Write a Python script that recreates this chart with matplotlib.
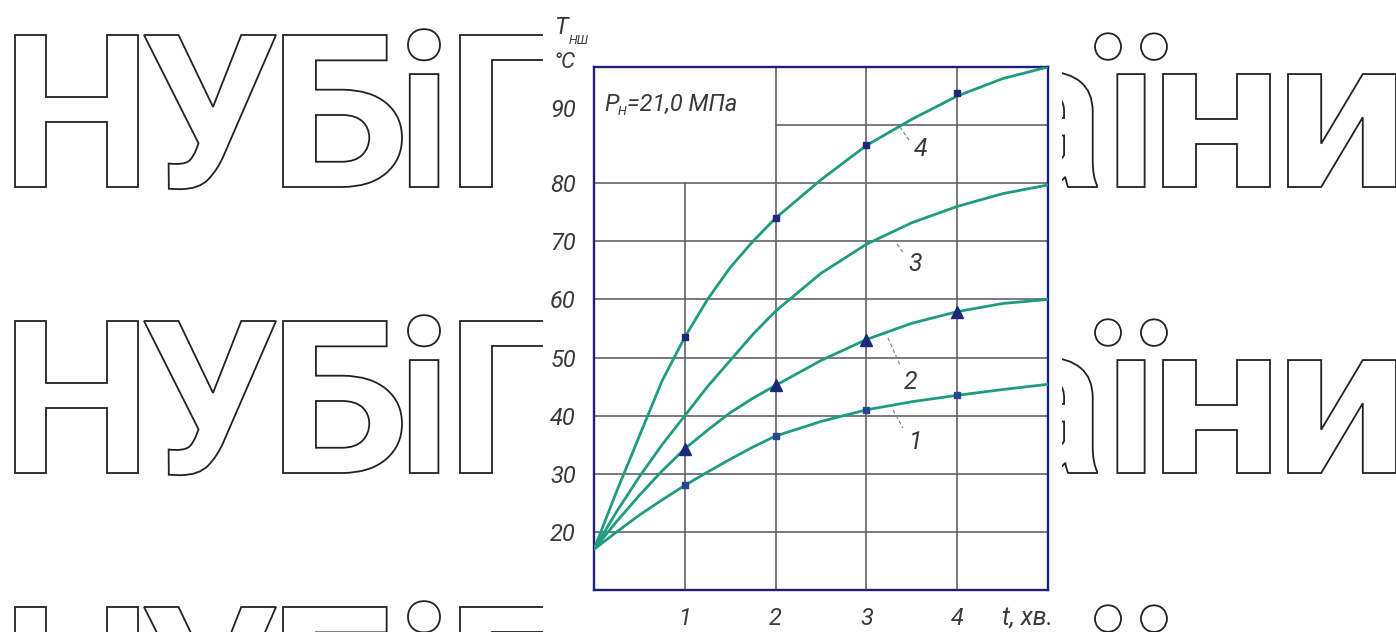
import matplotlib
matplotlib.use('Agg')
import matplotlib.pyplot as plt
from matplotlib.textpath import TextPath
from matplotlib.font_manager import FontProperties
from matplotlib.patches import PathPatch, Rectangle
from matplotlib.transforms import Affine2D, IdentityTransform, ScaledTranslation

W, H = 1396, 632

# ---------------- data ----------------
t_points = [0, 0.25, 0.5, 0.75, 1, 1.25, 1.5, 1.75, 2, 2.5, 3, 3.5, 4, 4.5, 5]
curve1 = [17.0, 20.0, 22.9, 25.5, 28.0, 30.3, 32.5, 34.6, 36.5, 39.0, 41.0, 42.4, 43.5, 44.5, 45.4]
curve2 = [17.0, 21.8, 26.3, 30.5, 34.3, 37.5, 40.5, 43.0, 45.2, 49.5, 53.1, 55.9, 57.9, 59.3, 60.0]
curve3 = [17.0, 23.5, 29.5, 35.0, 40.0, 45.0, 49.5, 54.0, 58.0, 64.5, 69.5, 73.2, 76.0, 78.2, 79.7]
curve4 = [17.0, 27.0, 36.5, 46.0, 53.5, 60.0, 65.5, 70.0, 74.0, 80.6, 86.5, 91.0, 95.0, 98.0, 100.0]

mark_t = [1, 2, 3, 4]
marks1 = [28.0, 36.5, 41.0, 43.5]
marks2 = [34.3, 45.2, 53.1, 57.9]
marks4 = [53.5, 74.0, 86.5, 95.5]

xticks = [1, 2, 3, 4]
xtick_labels = ['1', '2', '3', '4']
yticks = [20, 30, 40, 50, 60, 70, 80, 90]
ytick_labels = ['20', '30', '40', '50', '60', '70', '80', '90']
curve_names = ['1', '2', '3', '4']

watermark_left = ['Н', 'У', 'Б', 'і', 'П']
watermark_right = ['а', 'ї', 'н', 'и']

# ---------------- style ----------------
LINE_C = '#1f9c80'
MARK_C = '#1b2a78'
SPINE_C = '#20207a'
GRID_C = '#62626a'
TXT_C = '#3a3a3a'
lab_font = dict(family=['Roboto', 'DejaVu Sans'], style='italic', weight='normal', color=TXT_C)
FS = 17

fig = plt.figure(figsize=(W / 100, H / 100), dpi=100)
fig.patch.set_facecolor('white')

# ---------------- watermark ----------------
wfp = FontProperties(family=['Roboto', 'DejaVu Sans'], weight='bold')
capH = TextPath((0, 0), 'Н', size=100, prop=wfp).get_extents().height
CAP = 152

def add_glyph(ch, x0, x1, base):
    tp = TextPath((0, 0), ch, size=100, prop=wfp)
    ext = tp.get_extents()
    sy = CAP / capH
    sx = (x1 - x0) / ext.width
    tr = Affine2D().translate(-ext.x0, 0).scale(sx, sy).translate(x0, H - base)
    p = tr.transform_path(tp)
    fig.add_artist(PathPatch(p, facecolor='white', edgecolor='#222222', lw=1.3,
                             transform=IdentityTransform(), zorder=-3))

left_boxes = [(15, 138), (144, 276), (283, 402), (408, 440), (460, 586)]
right_boxes = [(1002, 1097), (1095, 1167), (1163, 1270), (1288, 1396)]
for base in [187, 473, 759]:
    for ch, (a, b) in zip(watermark_left, left_boxes):
        add_glyph(ch, a, b, base)
    for ch, (a, b) in zip(watermark_right, right_boxes):
        add_glyph(ch, a, b, base)

fig.add_artist(Rectangle((543 / W, 0), (1062 - 543) / W, 1, transform=fig.transFigure,
                         facecolor='white', edgecolor='none', zorder=-1))

# ---------------- axes ----------------
ax = fig.add_axes([594 / W, 1 - 590 / H, 454 / W, 523 / H])
ax.set_facecolor('white')
ax.set_xlim(0, 5)
ax.set_ylim(10, 100)

# grid (label box in upper-left has no grid)
for xv in xticks:
    top = 80 if xv == 1 else 100
    ax.plot([xv, xv], [10, top], color=GRID_C, lw=1.2, zorder=1)
for yv in yticks:
    left = 2 if yv == 90 else 0
    ax.plot([left, 5], [yv, yv], color=GRID_C, lw=1.2, zorder=1)

for c in [curve1, curve2, curve3, curve4]:
    ax.plot(t_points, c, color=LINE_C, lw=2.0, zorder=3, solid_capstyle='round',
            solid_joinstyle='round')

ax.plot(mark_t, marks1, 's', color='#2c4592', ms=4.5, zorder=4)
ax.plot(mark_t, marks4, 's', color=MARK_C, ms=5, zorder=4)
ax.plot(mark_t, marks2, '^', color=MARK_C, ms=9, zorder=4)

for sp in ax.spines.values():
    sp.set_color(SPINE_C)
    sp.set_linewidth(1.7)

ax.set_xticks(xticks)
ax.set_xticklabels(xtick_labels, fontsize=FS, **lab_font)
ax.set_yticks(yticks)
ax.set_yticklabels(ytick_labels, fontsize=FS, **lab_font)
ax.tick_params(length=0, pad=12)
ax.tick_params(axis='y', pad=13)
# "90" label sits higher than its grid line in the original
lbl90 = ax.get_yticklabels()[-1]
lbl90.set_transform(lbl90.get_transform() + ScaledTranslation(0, 17 / 100, fig.dpi_scale_trans))

def fx(px):
    return px / W

def fy(py):
    return 1 - py / H

# curve labels with leader lines
leaders = [((893, 410), (903, 428), (916, 442)),
           ((888, 338), (900, 365), (911, 382)),
           ((897, 244), (904, 254), (915, 264)),
           ((900, 127), (909, 140), (921, 149))]
for name, (p0, p1, pt) in zip(curve_names, leaders):
    fig.add_artist(plt.Line2D([fx(p0[0]), fx(p1[0])], [fy(p0[1]), fy(p1[1])],
                              transform=fig.transFigure, color='#888888', lw=0.9,
                              ls=(0, (3, 2)), zorder=5))
    fig.text(fx(pt[0]), fy(pt[1]), name, fontsize=FS + 1, ha='center', va='center', zorder=5, **lab_font)

# axis captions
fig.text(fx(561), fy(27), 'T', fontsize=FS, ha='center', va='center', **lab_font)
fig.text(fx(579), fy(40), 'НШ', fontsize=9, ha='center', va='center', **lab_font)
fig.text(fx(564), fy(63), '°С', fontsize=16, ha='center', va='center', **lab_font)
fig.text(fx(1027), fy(618), 't, хв.', fontsize=FS + 1, ha='center', va='center', **lab_font)

# pressure label
fig.text(fx(604), fy(111), 'P', fontsize=FS, ha='left', va='baseline', **lab_font)
fig.text(fx(618), fy(115), 'Н', fontsize=9, ha='left', va='baseline', **lab_font)
fig.text(fx(627), fy(111), '=21,0 МПа', fontsize=FS, ha='left', va='baseline', **lab_font)

fig.savefig('out.png', dpi=100, facecolor='white')
